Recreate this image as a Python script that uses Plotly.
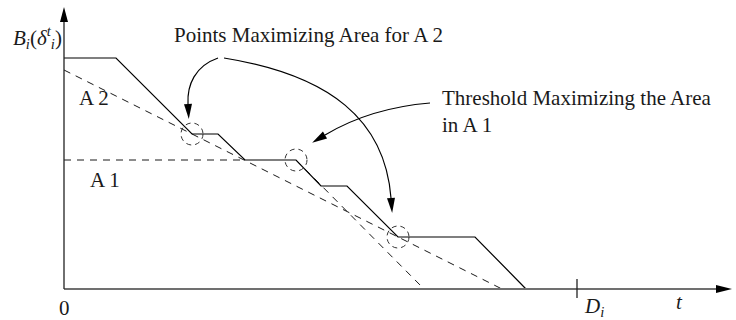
import math
import plotly.graph_objects as go

# Esquema: função degrau B_i(delta_i^t) e retas de área (coordenadas do desenho, 1 unidade = 1 px)
step_t = [0, 52, 128, 154, 181, 232, 257, 283, 334, 411, 462]
step_b = [231, 231, 155, 155, 129, 129, 103, 103, 52, 52, 0]

a2_t = [0, 438]
a2_b = [219, 0]

a1_flat_t = [0, 181]
a1_flat_b = [129, 129]
a1_drop_t = [232, 360]
a1_drop_b = [129, 0]

marked_t = [128, 232, 334]
marked_b = [155, 129, 52]

deadline_t = 513

FONT = "Liberation Serif"
INK = "#1a1a1a"


def px(x, y):
    # pixel da imagem -> coordenada dos eixos
    return x - 64, 289 - y


def head_path(base, prev, length=15, width=8):
    dx, dy = base[0] - prev[0], base[1] - prev[1]
    n = math.hypot(dx, dy)
    ux, uy = dx / n, dy / n
    tip = (base[0] + ux * length, base[1] + uy * length)
    l = (base[0] - uy * width / 2, base[1] + ux * width / 2)
    r = (base[0] + uy * width / 2, base[1] - ux * width / 2)
    return f"M {tip[0]},{tip[1]} L {l[0]},{l[1]} L {r[0]},{r[1]} Z"


fig = go.Figure()

dash_line = dict(color=INK, width=1, dash="7px,6px")
fig.add_trace(go.Scatter(x=a2_t, y=a2_b, mode="lines", line=dash_line))
fig.add_trace(go.Scatter(x=a1_flat_t, y=a1_flat_b, mode="lines", line=dash_line))
fig.add_trace(go.Scatter(x=a1_drop_t, y=a1_drop_b, mode="lines", line=dash_line))
fig.add_trace(go.Scatter(x=step_t, y=step_b, mode="lines", line=dict(color="#000", width=1.2)))

shapes = []
# circulos tracejados nos pontos
for t, b in zip(marked_t, marked_b):
    shapes.append(dict(type="circle", xref="x", yref="y", x0=t - 11, x1=t + 11, y0=b - 11, y1=b + 11,
                       line=dict(color="#333", width=1, dash="5px,4px")))

# eixos desenhados à mão
ox, oy = px(64, 289)
shapes.append(dict(type="line", xref="x", yref="y", x0=ox, y0=oy, x1=px(716, 289)[0], y1=oy,
                   line=dict(color="#707070", width=2)))
shapes.append(dict(type="path", xref="x", yref="y", path=head_path(px(716, 289), px(700, 289), 16, 8),
                   fillcolor="#000", line=dict(width=0)))
shapes.append(dict(type="line", xref="x", yref="y", x0=ox, y0=oy, x1=ox, y1=px(64, 22)[1],
                   line=dict(color="#222", width=1.3)))
shapes.append(dict(type="path", xref="x", yref="y", path=head_path(px(64, 22), px(64, 40), 15, 8),
                   fillcolor="#000", line=dict(width=0)))
shapes.append(dict(type="line", xref="x", yref="y", x0=deadline_t, x1=deadline_t, y0=10, y1=-9,
                   line=dict(color="#222", width=1.3)))

# setas curvas (bezier cubica / quadratica)
curves = [
    [(218, 58), (195, 66), (187, 85), (188, 104)],
    [(224, 58), (330, 75), (385, 120), (391, 198)],
    [(430, 103), (370, 108), (325, 135)],
]
for c in curves:
    p = [px(*q) for q in c]
    if len(p) == 4:
        d = f"M {p[0][0]},{p[0][1]} C {p[1][0]},{p[1][1]} {p[2][0]},{p[2][1]} {p[3][0]},{p[3][1]}"
    else:
        d = f"M {p[0][0]},{p[0][1]} Q {p[1][0]},{p[1][1]} {p[2][0]},{p[2][1]}"
    shapes.append(dict(type="path", xref="x", yref="y", path=d, line=dict(color="#000", width=1.2)))
    shapes.append(dict(type="path", xref="x", yref="y", path=head_path(p[-1], p[-2], 15, 8),
                       fillcolor="#000", line=dict(width=0)))

fnt = dict(family=FONT, size=21, color=INK)
ann = [
    dict(x=-27, y=252, text="<i>B</i><sub><i>i</i></sub>(<i>δ</i><sup><i>t</i></sup><sub><i>i</i></sub>)",
         xanchor="center"),
    dict(x=108, y=254, text="Points Maximizing Area for A 2", xanchor="left"),
    dict(x=376, y=178, text="Threshold Maximizing the Area<br>in A 1", xanchor="left", align="left"),
    dict(x=13, y=191, text="A 2", xanchor="left"),
    dict(x=24, y=109, text="A 1", xanchor="left"),
    dict(x=0, y=-19, text="0", xanchor="center"),
    dict(x=518, y=-18, text="<i>D</i><sub><i>i</i></sub>", xanchor="left"),
    dict(x=615, y=-13, text="<i>t</i>", xanchor="center"),
]
for a in ann:
    a.update(xref="x", yref="y", showarrow=False, yanchor="middle", font=fnt)

fig.update_layout(
    width=736, height=320,
    margin=dict(l=0, r=0, t=0, b=0),
    paper_bgcolor="white", plot_bgcolor="white",
    showlegend=False,
    xaxis=dict(range=[-64, 672], visible=False, fixedrange=True),
    yaxis=dict(range=[-31, 289], visible=False, fixedrange=True),
    shapes=shapes,
    annotations=ann,
)

fig.write_html("out.html", config={"displayModeBar": False},
               post_script="document.body.style.margin='0px';")
